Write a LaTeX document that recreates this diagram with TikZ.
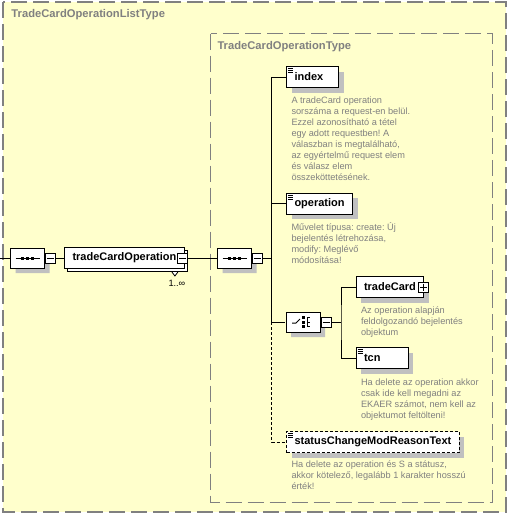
\documentclass[tikz,border=0pt]{standalone}
\usepackage{fontspec}
\setmainfont{Liberation Sans}
\frenchspacing
\usetikzlibrary{positioning,shapes.misc,shadows}

\definecolor{typefill}{HTML}{FFFFCC}
\definecolor{framegray}{HTML}{808080}
\definecolor{shadegray}{HTML}{C0C0C0}
\definecolor{descgray}{HTML}{808080}

\newcommand{\namefont}{\fontsize{11}{13}\selectfont\bfseries}
\newcommand{\descfont}{\fontsize{9.2}{11}\selectfont}
\newcommand{\titlefont}{\fontsize{11.2}{13}\selectfont\bfseries}

\newcommand{\minusmark}[1]{\draw ([xshift=2pt]#1.west) -- ([xshift=-2pt]#1.east);}
\newcommand{\plusmark}[1]{\minusmark{#1}\draw ([yshift=-2pt]#1.north) -- ([yshift=2pt]#1.south);}
\newcommand{\simpleicon}[1]{\foreach \dy in {2.5,4.5,6.5}{\draw[line width=0.8pt] ([shift={(2,\dy)}]#1.north west) -- ++(5,0);}}
\newcommand{\seqicon}[1]{\draw ([xshift=-12pt]#1.center) -- ([xshift=12pt]#1.center);
  \foreach \dx in {-5,0,5}{\fill ([xshift=\dx pt]#1.center) +(-1.5,-1.5) rectangle +(1.5,1.5);}}
\newcommand{\choiceicon}[1]{\draw ([shift={(-11,1)}]#1.center) -- ++(4,0) -- ++(4,-4);
  \foreach \dy in {-4.5,0,4.5}{\fill ([shift={(0.5,\dy)}]#1.center) +(-1.5,-1.5) rectangle +(1.5,1.5);
    \draw ([shift={(4,\dy)}]#1.center) -- ++(3,0);}
  \draw ([shift={(4,-4.5)}]#1.center) -- ++(0,9);}

\tikzset{
  typeframe/.style={draw=framegray,line width=1.5pt,dash pattern=on 16pt off 6pt,fill=typefill},
  typetitle/.style={anchor=west,inner sep=0pt,font=\titlefont,text=framegray},
  grayshadow/.style={drop shadow={shadow xshift=5pt,shadow yshift=-5pt,fill=shadegray,opacity=1}},
  elembox/.style={draw=black,fill=white,anchor=west,font=\namefont,minimum height=21pt,inner xsep=8pt,inner ysep=0pt},
  elem/.style={elembox,grayshadow},
  shortelem/.style={elem,text width=36pt,align=left},
  optelem/.style={elem,dash pattern=on 3pt off 2pt},
  compositor/.style={chamfered rectangle,chamfered rectangle xsep=6pt,chamfered rectangle ysep=6pt,draw=black,fill=white,minimum width=34pt,minimum height=20pt,inner sep=0pt,grayshadow},
  pmbox/.style={draw=black,fill=white,minimum size=10pt,inner sep=0pt},
  desc/.style={anchor=north west,inner sep=0pt,align=left,font=\descfont,text=descgray},
  optline/.style={dash pattern=on 3pt off 2pt}
}

\begin{document}
\begin{tikzpicture}[x=1pt,y=-1pt,line width=1pt]
\useasboundingbox (0,0) rectangle (509,515);
% the two complex types
\draw[typeframe] (3,2) rectangle (506,512);
\node[typetitle] (listtitle) at (11,15) {TradeCardOperationListType};
\draw[typeframe] (210.5,33.5) rectangle (492.5,502.5);
\node[typetitle] (optitle) at (217,47) {TradeCardOperationType};

% outer sequence and the repeated element
\coordinate (entry) at (0,258);
\node[compositor] (seqa) at (27.5,258) {};
\seqicon{seqa}
\node[pmbox,right=0pt of seqa] (seqam) {};
\minusmark{seqam}
\node[elembox,copy shadow={shadow xshift=3pt,shadow yshift=-3pt}] (tco) at (64,258) {tradeCardOperation\hspace{10pt}};
\draw[fill=white,line width=0.8pt] ([shift={(-13,3)}]tco.south east) -- ++(3,4) -- ++(3,-4);
\node[pmbox] (tcom) at ([xshift=-2pt]tco.east) {};
\minusmark{tcom}
\node[anchor=west,inner sep=0pt,font=\descfont] (tcoocc) at (168,283) {1..∞};

% inner sequence
\node[compositor] (seqb) at (234.5,258) {};
\seqicon{seqb}
\node[pmbox,right=0pt of seqb] (seqbm) {};
\minusmark{seqbm}
\coordinate (bus) at (271.5,258);

\node[shortelem] (index) at (286,77) {index};
\simpleicon{index}
\node[desc] (indexdesc) at ([shift={(5,8)}]index.south west) {A tradeCard operation\\sorszáma a request-en belül.\\Ezzel azonosítható a tétel\\egy adott requestben! A\\válaszban is megtalálható,\\az egyértelmű request elem\\és válasz elem\\összeköttetésének.};

\node[elem] (operation) at (286,203.5) {operation};
\simpleicon{operation}
\node[desc] (operationdesc) at ([shift={(5,8)}]operation.south west) {Művelet típusa: create: Új\\bejelentés létrehozása,\\modify: Meglévő\\módosítása!};

% choice
\node[compositor] (choice) at (303,322) {};
\choiceicon{choice}
\node[pmbox,right=0pt of choice] (choicem) {};
\minusmark{choicem}
\coordinate (bustwo) at (341,322);

\node[elem] (tradeCard) at (355.5,287) {tradeCard\hspace{6pt}};
\node[pmbox] (tradeCardp) at ([xshift=-1pt]tradeCard.east) {};
\plusmark{tradeCardp}
\node[desc] (tradeCarddesc) at ([shift={(5,8)}]tradeCard.south west) {Az operation alapján\\feldolgozandó bejelentés\\objektum};

\node[shortelem] (tcn) at (355.5,358) {tcn};
\simpleicon{tcn}
\node[desc] (tcndesc) at ([shift={(5,9)}]tcn.south west) {Ha delete az operation akkor\\csak ide kell megadni az\\EKAER számot, nem kell az\\objektumot feltölteni!};

\node[optelem] (statusReason) at (286,442) {statusChangeModReasonText};
\simpleicon{statusReason}
\node[desc] (statusReasondesc) at ([shift={(5,7)}]statusReason.south west) {Ha delete az operation és S a státusz,\\akkor kötelező, legalább 1 karakter hosszú\\érték!};

% connectors
\draw (entry) -- (seqa);
\draw (seqam) -- (tco);
\draw (tcom) -- (seqb);
\draw (seqbm) -- (bus);
\draw (index) -| (bus) |- (operation);
\draw (bus) |- (choice);
\draw[optline] (choice -| bus) |- (statusReason);
\draw (choicem) -- (bustwo);
\draw (tradeCard) -| (bustwo) |- (tcn);
\end{tikzpicture}
\end{document}
